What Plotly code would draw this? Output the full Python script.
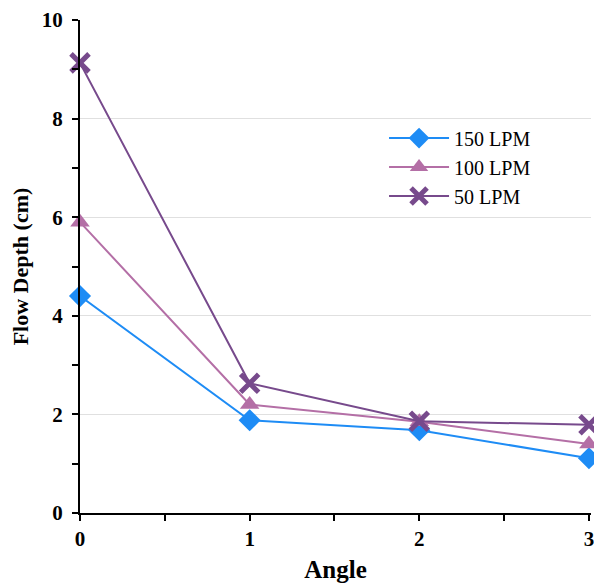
import plotly.graph_objects as go

angles = [0, 1, 2, 3]
lpm150 = [4.40, 1.88, 1.68, 1.11]
lpm100 = [5.90, 2.20, 1.85, 1.40]
lpm50 = [9.13, 2.63, 1.86, 1.79]

names = ["150 LPM", "100 LPM", "50 LPM"]
colors = ["#1E8CF5", "#B46FA6", "#774A8C"]

FONT = "Liberation Serif"

fig = go.Figure()
fig.add_trace(go.Scatter(x=angles, y=lpm150, name=names[0], mode="lines+markers",
                         line=dict(color=colors[0], width=2),
                         marker=dict(symbol="diamond", size=17, color=colors[0]),
                         cliponaxis=False))
fig.add_trace(go.Scatter(x=angles, y=lpm100, name=names[1], mode="lines+markers",
                         line=dict(color=colors[1], width=2),
                         marker=dict(symbol="triangle-up", size=17, color=colors[1]),
                         cliponaxis=False))
fig.add_trace(go.Scatter(x=angles, y=lpm50, name=names[2], mode="lines+markers",
                         line=dict(color=colors[2], width=2),
                         marker=dict(symbol="x-thin", size=18, color=colors[2],
                                     line=dict(color=colors[2], width=5)),
                         cliponaxis=False))

fig.update_layout(
    width=594, height=583,
    margin=dict(l=80, r=0, t=20, b=68),
    paper_bgcolor="white", plot_bgcolor="white",
    font=dict(family=FONT, color="black"),
    showlegend=True,
    legend=dict(x=0.595, y=0.80, xanchor="left", yanchor="top",
                font=dict(family=FONT, size=20, color="black"),
                bgcolor="rgba(255,255,255,0)", itemwidth=60, tracegroupgap=0),
    xaxis=dict(range=[0, 3.012], dtick=1, tick0=0, showgrid=False, zeroline=False,
               showline=True, linecolor="black", linewidth=2,
               ticks="outside", ticklen=6, tickwidth=2, tickcolor="black",
               ticklabeloverflow="allow",
               tickfont=dict(family=FONT, size=21, color="black", weight="bold"),
               minor=dict(dtick=0.5, tick0=0, ticks="outside", ticklen=6, tickwidth=2,
                          tickcolor="black", showgrid=False),
               title=dict(text="<b>Angle</b>", font=dict(family=FONT, size=25, color="black"),
                          standoff=14)),
    yaxis=dict(range=[0, 10], dtick=2, tick0=0, showgrid=True, gridcolor="#E0E0E0",
               gridwidth=1, zeroline=False,
               showline=True, linecolor="black", linewidth=2,
               ticks="outside", ticklen=6, tickwidth=2, tickcolor="black",
               ticklabelstandoff=5,
               tickfont=dict(family=FONT, size=21, color="black", weight="bold"),
               minor=dict(dtick=1, tick0=0, ticks="outside", ticklen=6, tickwidth=2,
                          tickcolor="black", showgrid=False),
               title=dict(text="<b>Flow Depth (cm)</b>",
                          font=dict(family=FONT, size=22, color="black"), standoff=7)),
)

fig.write_html("out.html")
